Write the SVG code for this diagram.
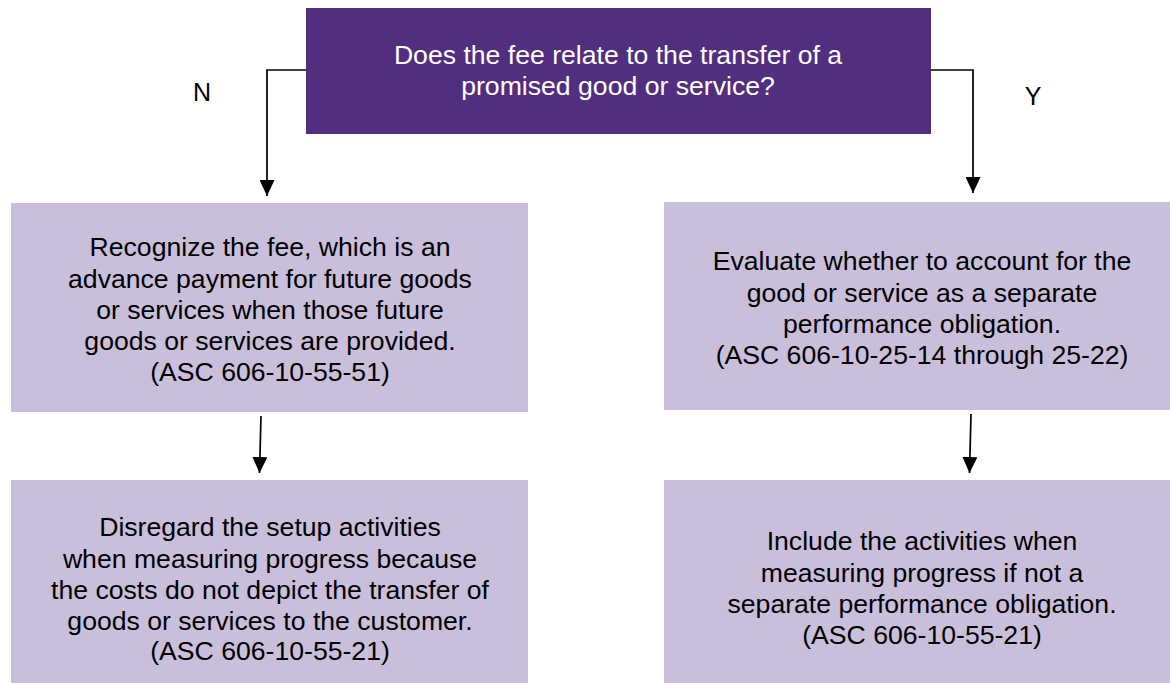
<svg xmlns="http://www.w3.org/2000/svg" width="1170" height="683" viewBox="0 0 1170 683">
<style>
.q{fill:#512F7E}
.b{fill:#C9BFDB}
.t{font-family:"Liberation Sans",Arial,sans-serif;font-size:25px;text-anchor:middle}
.w{fill:#FFFFFF}
.k{fill:#000000}
.c{fill:none;stroke:#000;stroke-width:1.7}
</style>
<defs>
<marker id="ah" markerWidth="16" markerHeight="15" refX="16" refY="7.5" orient="auto" markerUnits="userSpaceOnUse" viewBox="0 0 16 15">
<path d="M0,0 L16,7.5 L0,15 Z" fill="#000"/>
</marker>
</defs>
<rect width="1170" height="683" fill="#fff"/>
<g id="q1">
<rect class="q" x="306" y="8" width="625" height="126"/>
<g transform="translate(618,0) scale(1.065,1)">
<text class="t w" x="0" y="64">Does the fee relate to the transfer of a</text>
<text class="t w" x="0" y="95">promised good or service?</text>
</g>
</g>
<g id="n1">
<rect class="b" x="11" y="203" width="517" height="209"/>
<g transform="translate(270,0) scale(1.065,1)">
<text class="t k" x="0" y="256">Recognize the fee, which is an</text>
<text class="t k" x="0" y="288">advance payment for future goods</text>
<text class="t k" x="0" y="319">or services when those future</text>
<text class="t k" x="0" y="350">goods or services are provided.</text>
<text class="t k" x="0" y="381">(ASC 606-10-55-51)</text>
</g>
</g>
<g id="y1">
<rect class="b" x="664" y="202" width="506" height="208"/>
<g transform="translate(922,0) scale(1.065,1)">
<text class="t k" x="0" y="270">Evaluate whether to account for the</text>
<text class="t k" x="0" y="302">good or service as a separate</text>
<text class="t k" x="0" y="333">performance obligation.</text>
<text class="t k" x="0" y="364">(ASC 606-10-25-14 through 25-22)</text>
</g>
</g>
<g id="n2">
<rect class="b" x="11" y="480" width="517" height="203"/>
<g transform="translate(270,0) scale(1.065,1)">
<text class="t k" x="0" y="536">Disregard the setup activities</text>
<text class="t k" x="0" y="568">when measuring progress because</text>
<text class="t k" x="0" y="599">the costs do not depict the transfer of</text>
<text class="t k" x="0" y="630">goods or services to the customer.</text>
<text class="t k" x="0" y="660">(ASC 606-10-55-21)</text>
</g>
</g>
<g id="y2">
<rect class="b" x="664" y="480" width="506" height="203"/>
<g transform="translate(922,0) scale(1.065,1)">
<text class="t k" x="0" y="550">Include the activities when</text>
<text class="t k" x="0" y="582">measuring progress if not a</text>
<text class="t k" x="0" y="613">separate performance obligation.</text>
<text class="t k" x="0" y="644">(ASC 606-10-55-21)</text>
</g>
</g>
<g id="labels">
<text class="t k" x="202" y="101">N</text>
<text class="t k" x="1033" y="105">Y</text>
</g>
<g id="connectors">
<path class="c" d="M306,70 H267 V196" marker-end="url(#ah)"/>
<path class="c" d="M931,70 H973 V193" marker-end="url(#ah)"/>
<path class="c" d="M261,416 L259.5,473" marker-end="url(#ah)"/>
<path class="c" d="M971,414 L969.5,473" marker-end="url(#ah)"/>
</g>
</svg>
